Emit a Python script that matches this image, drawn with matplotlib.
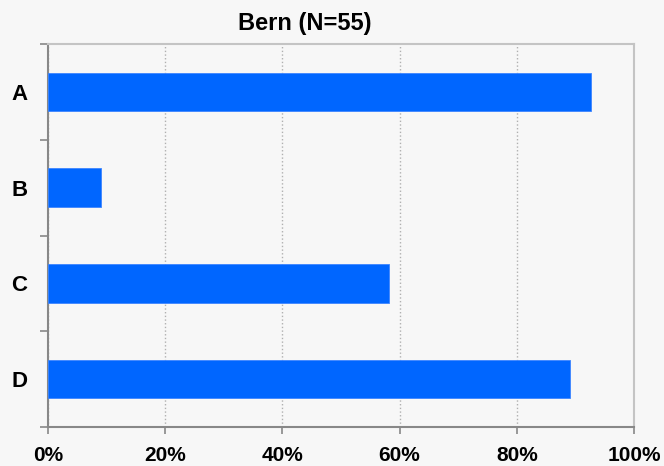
import matplotlib.pyplot as plt
from matplotlib.ticker import FixedLocator, PercentFormatter

categories = ['A', 'B', 'C', 'D']
shares = [92.7, 9.1, 58.2, 89.1]
x_ticks = [0, 20, 40, 60, 80, 100]

plt.rcParams['font.family'] = ['Liberation Sans', 'DejaVu Sans']

fig = plt.figure(figsize=(6.64, 4.66), dpi=100, facecolor='#f7f7f7')
ax = fig.add_axes([48 / 664, 1 - 427 / 466, 586 / 664, 383 / 466])
ax.set_facecolor('#f7f7f7')

ypos = list(range(len(categories)))
ax.barh(ypos, shares, height=0.4, color='#0066ff', edgecolor='#3d85ff', linewidth=0.6, zorder=3)

ax.set_xlim(0, 100)
ax.set_ylim(len(categories) - 0.5, -0.5)
ax.set_xticks(x_ticks)
ax.xaxis.set_major_formatter(PercentFormatter(decimals=0))
ax.set_yticks(ypos)
ax.set_yticklabels(categories)
ax.yaxis.set_minor_locator(FixedLocator([i - 0.5 for i in range(len(categories) + 1)]))

ax.tick_params(axis='x', length=5, width=1.2, color='#888888', pad=9, labelsize=15)
ax.tick_params(axis='y', which='major', length=0, pad=15, labelsize=16)
ax.tick_params(axis='y', which='minor', length=6, width=1.2, color='#888888')
for lbl in ax.get_xticklabels() + ax.get_yticklabels():
    lbl.set_fontweight('bold')

ax.grid(axis='x', linestyle=':', color='#b0b0b0', linewidth=1, zorder=0)

ax.spines['left'].set_color('#888888')
ax.spines['left'].set_linewidth(1.5)
ax.spines['bottom'].set_color('#888888')
ax.spines['bottom'].set_linewidth(1.5)
ax.spines['top'].set_color('#c4c4c4')
ax.spines['top'].set_linewidth(1.5)
ax.spines['right'].set_color('#c4c4c4')
ax.spines['right'].set_linewidth(1.5)

# title sits a bit left of the axes centre in the original
ax.set_title('Bern (N=55)', fontsize=17, fontweight='bold', pad=10, x=0.4386)

fig.savefig('out.png', dpi=100, facecolor=fig.get_facecolor())
